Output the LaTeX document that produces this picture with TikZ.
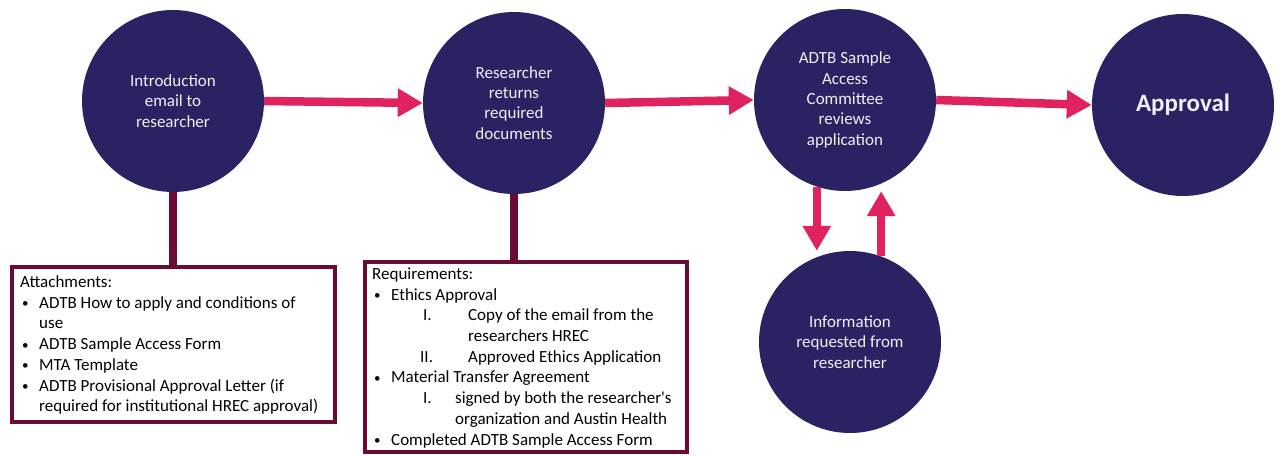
\documentclass[tikz,border=0pt]{standalone}
\usepackage{fontspec}
\setmainfont{Carlito}
\usetikzlibrary{arrows.meta}
\definecolor{navy}{HTML}{2A2363}
\definecolor{pinkarr}{HTML}{E0225E}
\definecolor{boxmaroon}{HTML}{680C37}
\definecolor{softwhite}{HTML}{F0F0F4}
\newcommand{\bl}{\makebox[19pt][l]{\hspace{2pt}\raisebox{0.5pt}{\fontsize{13}{13}\selectfont\textbullet}}}
\begin{document}
\begin{tikzpicture}[x=1pt,y=-1pt,
  stage/.style={circle,fill=navy,minimum size=182pt,inner sep=0pt,text=softwhite,align=center,font=\fontsize{17}{20.3}\selectfont},
  flow/.style={line width=8.5pt,draw=pinkarr,-{Triangle[length=25pt,width=27pt]}},
  link/.style={line width=8pt,draw=boxmaroon},
  infobox/.style={draw=boxmaroon,line width=4.5pt,fill=white,inner sep=0pt,anchor=north west},
  infotext/.style={inner sep=0pt,anchor=north west,align=left,font=\fontsize{17}{20.7}\selectfont}]
\useasboundingbox (0,0) rectangle (1282,455);
% stages
\node[stage] (c1) at (173,101) {Introduction\\email to\\researcher};
\node[stage] (c2) at (514,103) {Researcher\\returns\\required\\documents};
\node[stage] (c3) at (845,100) {ADTB Sample\\Access\\Committee\\reviews\\application};
\node[stage] (c4) at (1183,105) {\fontsize{25}{30}\selectfont\bfseries Approval};
\node[stage] (c5) at (850,342) {Information\\requested from\\researcher};
% boxes
\node[infobox,minimum width=323pt,minimum height=155pt] (b1) at (9.5,264.5) {};
\node[infobox,minimum width=322pt,minimum height=190pt] (b2) at (362.5,259.5) {};
\node[infotext] (b1t) at (20,275.5) {Attachments:\\
\bl ADTB How to apply and conditions of\\
\hspace*{19pt}use\\
\bl ADTB Sample Access Form\\
\bl MTA Template\\
\bl ADTB Provisional Approval Letter (if\\
\hspace*{19pt}required for institutional HREC approval)};
\node[infotext] (b2t) at (372,267.5) {Requirements:\\
\bl Ethics Approval\\
\hspace*{51pt}\makebox[45pt][l]{I.}Copy of the email from the\\
\hspace*{96pt}researchers HREC\\
\hspace*{48pt}\makebox[48pt][l]{II.}Approved Ethics Application\\
\bl Material Transfer Agreement\\
\hspace*{51pt}\makebox[32pt][l]{I.}signed by both the researcher\textquotesingle s\\
\hspace*{83pt}organization and Austin Health\\
\bl Completed ADTB Sample Access Form};
% connectors
\draw[link] (c1.south) -- (c1.south |- b1.north);
\draw[link] (c2.south) -- (c2.south |- b2.north);
\draw[flow] (c1.east) -- (c2.west);
\draw[flow] (c2.east) -- (c3.west);
\draw[flow] (c3.east) -- (c4.west);
\draw[flow] (c3.-108) -- (c3.-108 |- c5.north);
\draw[flow] (c5.70) -- (c5.70 |- c3.south);
\end{tikzpicture}
\end{document}
